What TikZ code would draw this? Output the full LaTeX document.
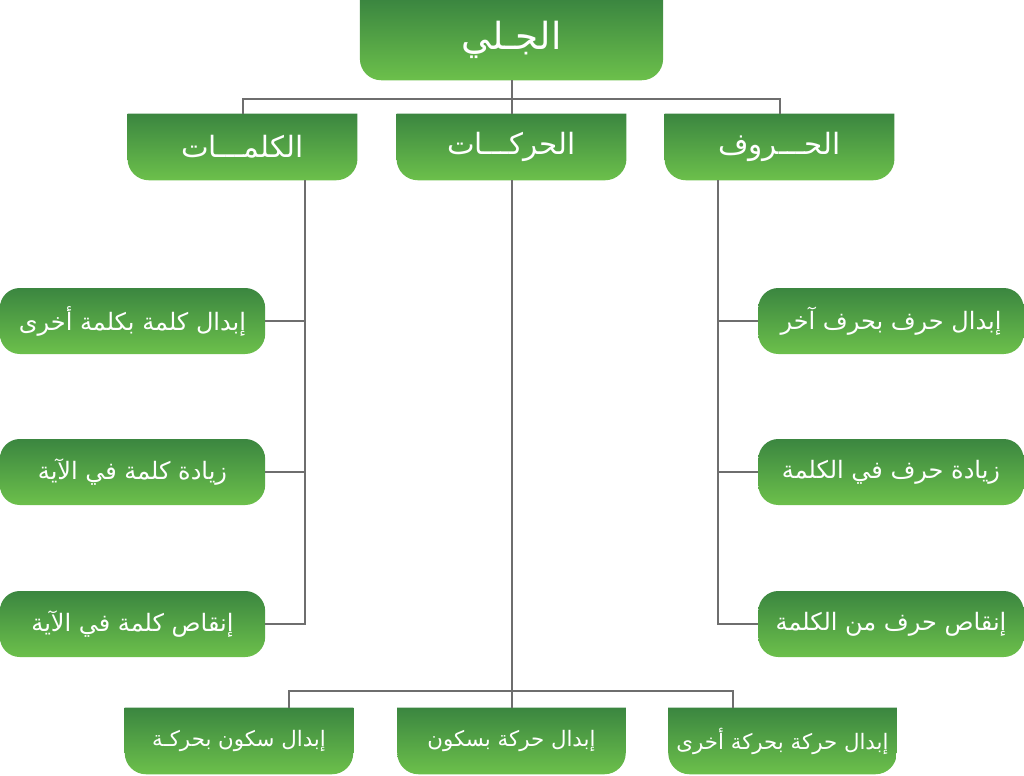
\documentclass[tikz,border=0pt]{standalone}
\usepackage{fontspec}
\usepackage{tikz}
\usetikzlibrary{positioning,calc,backgrounds}
\TeXXeTstate=1
\newfontfamily\arabicfont[Script=Arabic]{DejaVu Sans}
\newcommand{\artext}[1]{\arabicfont\beginR #1\endR}
\definecolor{gtop}{HTML}{3B8640}
\definecolor{gbot}{HTML}{6CC04B}
\definecolor{wire}{HTML}{6E6E6E}
\tikzset{
  every node/.style={text=white,inner sep=0pt,align=center},
  headbox/.style={minimum width=172pt,minimum height=49.5pt,font=\fontsize{22}{26}\selectfont},
  rootbox/.style={headbox,minimum width=227pt,minimum height=60pt,font=\fontsize{28}{32}\selectfont},
  footbox/.style={headbox,minimum width=171pt,font=\fontsize{16}{20}\selectfont},
  leafbox/.style={shade,top color=gtop,bottom color=gbot,rounded corners=15pt,
    minimum width=199pt,minimum height=49.5pt,font=\fontsize{18}{22}\selectfont},
  tab/.style={top color=gtop,bottom color=gbot},
  link/.style={draw=wire,line width=1.5pt},
}

\begin{document}
\begin{tikzpicture}[x=0.75pt,y=-0.75pt]
\useasboundingbox (0,0) rectangle (1024,775);

% root and first level
\node[rootbox] (root) at (511.5,40) {\artext{الجـلي}};
\node[headbox] (harakat) at (511.5,147) {\artext{الحركـــات}};
\node[headbox] (kalimat) at (242.5,147) {\artext{الكلمـــات}};
\node[headbox] (huruf) at (779.5,147) {\artext{الحـــروف}};

% words
\node[leafbox] (k1) at (132.5,321) {\artext{إبدال كلمة بكلمة أخرى}};
\node[leafbox] (k2) at (132.5,472) {\artext{زيادة كلمة في الآية}};
\node[leafbox] (k3) at (132.5,624) {\artext{إنقاص كلمة في الآية}};

% letters
\node[leafbox] (h1) at (891,321) {\artext{إبدال حرف بحرف آخر}};
\node[leafbox] (h2) at (891,472) {\artext{زيادة حرف في الكلمة}};
\node[leafbox] (h3) at (891,624) {\artext{إنقاص حرف من الكلمة}};

% vowels
\node[footbox] (b1) at (239,741) {\artext{إبدال سكون بحركـة}};
\node[footbox] (b2) at (511.5,741) {\artext{إبدال حركة بسكون}};
\node[footbox] (b3) at (782.5,741) {\artext{إبدال حركة بحركة أخرى}};

% tab shapes: square top, round bottom
\begin{scope}[on background layer]
\foreach \n in {root,harakat,kalimat,huruf,b1,b2,b3}
  \shade[tab] (\n.north west) -- (\n.north east) [rounded corners=16pt] -- (\n.south east) -- (\n.south west) [sharp corners] -- cycle;
\end{scope}

% connectors
\coordinate (tbus) at (511.5,99);
\coordinate (bbus) at (511.5,691);
\coordinate (kdrop) at ($(kalimat.south east)+(-52,0)$);
\coordinate (hdrop) at ($(huruf.south west)+(53,0)$);

\draw[link] (root) -- (harakat);
\draw[link] (kalimat.north) |- (tbus) -| (huruf.north);
\draw[link] (kdrop) |- (k3.east);
\draw[link] (k1.east) -- (k1.east -| kdrop);
\draw[link] (k2.east) -- (k2.east -| kdrop);
\draw[link] (hdrop) |- (h3.west);
\draw[link] (h1.west) -- (h1.west -| hdrop);
\draw[link] (h2.west) -- (h2.west -| hdrop);
\draw[link] (harakat) -- (b2);
\draw[link] ($(b1.north)+(50,0)$) |- (bbus) -| ($(b3.north)+(-50,0)$);

\end{tikzpicture}
\end{document}
